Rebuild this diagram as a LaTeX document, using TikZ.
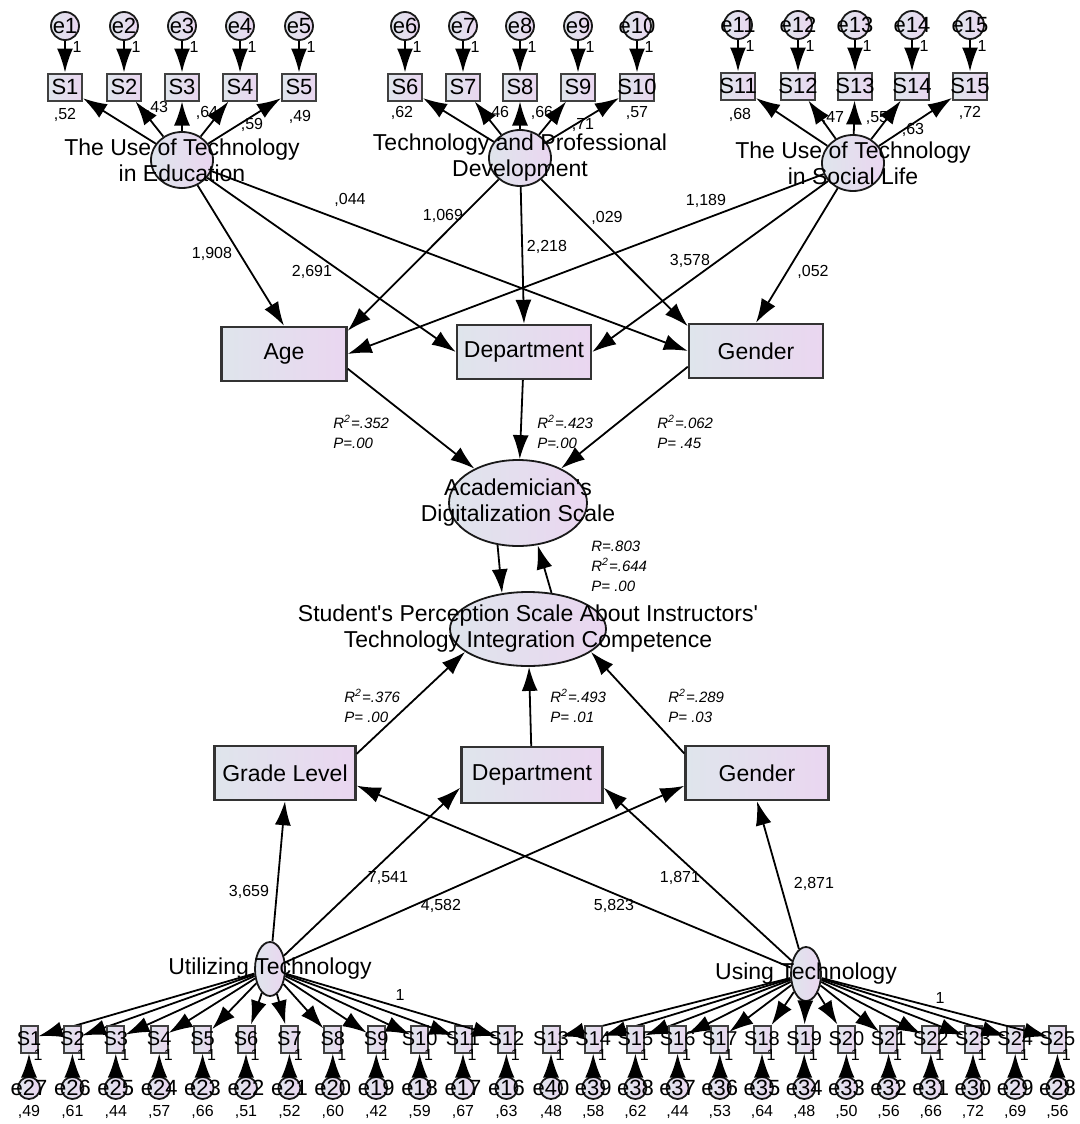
\documentclass[tikz,border=0pt]{standalone}
\usepackage{fontspec}
\setmainfont{Liberation Sans}
\usetikzlibrary{shapes,arrows.meta,calc,positioning}
\definecolor{fillL}{RGB}{223,229,236}
\definecolor{fillR}{RGB}{234,214,240}

\begin{document}
\begin{tikzpicture}[x=0.5pt,y=-0.5pt,
    lat/.style={ellipse,draw=black!90,line width=0.9pt,left color=fillL,right color=fillR,inner sep=0pt},
    obs/.style={draw=black!80,line width=1.2pt,left color=fillL,right color=fillR,inner sep=0pt,minimum height=27pt,font=\fontsize{11.5}{13}\selectfont},
    ind/.style={draw=black!75,line width=1pt,left color=fillL,right color=fillR,inner sep=0pt},
    err/.style={circle,draw=black!90,line width=0.9pt,left color=fillL,right color=fillR,inner sep=0pt},
    lattext/.style={font=\fontsize{11.5}{13}\selectfont,align=center},
    tag/.style={font=\fontsize{11}{12}\selectfont},
    smalltag/.style={font=\fontsize{10}{12}\selectfont},
    num/.style={font=\fontsize{8}{9}\selectfont,inner sep=0pt},
    rsq/.style={font=\fontsize{7.5}{10}\selectfont\itshape,align=left,inner sep=0pt,anchor=west},
    link/.style={-{Latex[length=12pt,width=8pt]},line width=0.9pt}]

\useasboundingbox (0,0) rectangle (1080,1124);

% top factors
\node[lat,minimum width=31pt,minimum height=28pt,label={[lattext]center:{The Use of Technology\\in Education}}] (edu) at (182,160) {};
\node[lat,minimum width=31pt,minimum height=28pt,label={[lattext]center:{Technology and Professional\\Development}}] (tpd) at (520,158) {};
\node[lat,minimum width=31pt,minimum height=28pt,label={[lattext]center:{The Use of Technology\\in Social Life}}] (tsl) at (853,163) {};

\foreach \i/\x/\lx/\ly/\w in {1/65/65/115/52,2/124/157/108/43,3/182/207/113/64,4/240/252/125/59,5/299/300/117/49}
{
  \node[ind,minimum width=17pt,minimum height=13.5pt,label={[tag]center:S\i}] (s\i) at (\x,87) {};
  \node[err,minimum size=14pt,label={[tag]center:e\i}] (e\i) at (\x,26) {};
  \draw[link] (e\i) -- (s\i);
  \draw[link] (edu) -- (s\i);
  \node[num] at (\x+12,47) {1};
  \node[num] at (\lx,\ly) {,\w};
}
\foreach \i/\x/\lx/\ly/\w in {6/405/402/113/62,7/463/498/113/46,8/520/542/113/66,9/578/583/125/71,10/637/637/113/57}
{
  \node[ind,minimum width=17pt,minimum height=13.5pt,label={[tag]center:S\i}] (s\i) at (\x,87) {};
  \node[err,minimum size=14pt,label={[tag]center:e\i}] (e\i) at (\x,26) {};
  \draw[link] (e\i) -- (s\i);
  \draw[link] (tpd) -- (s\i);
  \node[num] at (\x+12,47) {1};
  \node[num] at (\lx,\ly) {,\w};
}
\foreach \i/\x/\lx/\ly/\w in {11/738/740/115/68,12/798/833/118/47,13/855/877/118/55,14/912/913/130/63,15/970/970/113/72}
{
  \node[ind,minimum width=17pt,minimum height=13.5pt,label={[tag]center:S\i}] (s\i) at (\x,86) {};
  \node[err,minimum size=14pt,label={[tag]center:e\i}] (e\i) at (\x,25) {};
  \draw[link] (e\i) -- (s\i);
  \draw[link] (tsl) -- (s\i);
  \node[num] at (\x+12,46) {1};
  \node[num] at (\lx,\ly) {,\w};
}

% academician side
\node[obs,minimum width=62.5pt] (age) at (284,354) {Age};
\node[obs,minimum width=67pt] (dep1) at (524,352) {Department};
\node[obs,minimum width=67pt] (gen1) at (756,351) {Gender};

\draw[link] (edu) -- (age.north);
\draw[link] (edu) -- (dep1.west);
\draw[link] (edu) -- (gen1.west);
\draw[link] (tpd) -- (age.20);
\draw[link] (tpd) -- (dep1.north);
\draw[link] (tpd) -- (gen1.160);
\draw[link] (tsl) -- (age.east);
\draw[link] (tsl) -- (dep1.east);
\draw[link] (tsl) -- (gen1.north);

\node[num] at (212,254) {1,908};
\node[num] at (312,272) {2,691};
\node[num] at (350,200) {,044};
\node[num] at (443,216) {1,069};
\node[num] at (547,247) {2,218};
\node[num] at (607,218) {,029};
\node[num] at (706,201) {1,189};
\node[num] at (690,261) {3,578};
\node[num] at (813,272) {,052};

\node[lat,minimum width=69pt,minimum height=43pt,label={[lattext]center:{Academician\textquotesingle s\\Digitalization Scale}}] (ads) at (518,503) {};
\draw[link] (age.-13) -- (ads);
\draw[link] (dep1) -- (ads);
\draw[link] (gen1.193) -- (ads);

\node[rsq] at (333,432) {R\textsuperscript{2}=.352\\P=.00};
\node[rsq] at (537,432) {R\textsuperscript{2}=.423\\P=.00};
\node[rsq] at (657,432) {R\textsuperscript{2}=.062\\P= .45};

% student side
\node[lat,minimum width=78pt,minimum height=37pt,label={[lattext]center:{Student\textquotesingle s Perception Scale About Instructors\textquotesingle\\Technology Integration Competence}}] (sps) at (528,629) {};
\draw[link] (ads.244) -- (sps.126);
\draw[link] (sps.57) -- (ads.295);
\node[rsq] at (591,566) {R=.803\\R\textsuperscript{2}=.644\\P= .00};

\node[obs,minimum width=70.5pt] (grade) at (285,773) {Grade Level};
\node[obs,minimum width=70.5pt,minimum height=28pt] (dep2) at (532,775) {Department};
\node[obs,minimum width=71.5pt] (gen2) at (757,773) {Gender};

\draw[link] (grade.15) -- (sps.200);
\draw[link] (dep2) -- (sps);
\draw[link] (gen2.165) -- (sps.340);

\node[rsq] at (344,706) {R\textsuperscript{2}=.376\\P= .00};
\node[rsq] at (550,706) {R\textsuperscript{2}=.493\\P= .01};
\node[rsq] at (668,706) {R\textsuperscript{2}=.289\\P= .03};

\node[lat,minimum width=15pt,minimum height=27pt,label={[lattext]center:Utilizing Technology}] (util) at (270,969) {};
\node[lat,minimum width=15pt,minimum height=27pt,label={[lattext]center:Using Technology}] (using) at (806,974) {};

\draw[link] (util) -- (grade.south);
\draw[link] (util) -- (dep2.190);
\draw[link] (util) -- (gen2.190);
\draw[link] (using) -- (grade.350);
\draw[link] (using) -- (dep2.350);
\draw[link] (using) -- (gen2.south);

\node[num] at (249,892) {3,659};
\node[num] at (388,878) {7,541};
\node[num] at (441,906) {4,582};
\node[num] at (614,906) {5,823};
\node[num] at (680,878) {1,871};
\node[num] at (814,884) {2,871};

% indicators, bottom
\foreach \i/\n/\w [count=\k from 0] in {1/27/49,2/26/61,3/25/44,4/24/57,5/23/66,6/22/51,7/21/52,8/20/60,9/19/42,10/18/59,11/17/67,12/16/63}
{
  \pgfmathsetmacro{\xb}{29+43.4*\k}
  \node[ind,minimum width=8.5pt,minimum height=13.5pt,label={[smalltag]center:S\i}] (u\i) at (\xb,1039) {};
  \node[err,minimum size=11pt,label={[tag]center:e\n}] (e\n) at (\xb,1088) {};
  \draw[link] (e\n) -- (u\i);
  \draw[link] (util) -- (u\i);
  \node[num] at (\xb+9,1055) {1};
  \node[num] at (\xb,1112) {,\w};
}
\foreach \i/\n/\w [count=\k from 0] in {13/40/48,14/39/58,15/38/62,16/37/44,17/36/53,18/35/64,19/34/48,20/33/50,21/32/56,22/31/66,23/30/72,24/29/69,25/28/56}
{
  \pgfmathsetmacro{\xb}{551+42.2*\k}
  \node[ind,minimum width=8.5pt,minimum height=13.5pt,label={[smalltag]center:S\i}] (v\i) at (\xb,1039) {};
  \node[err,minimum size=11pt,label={[tag]center:e\n}] (e\n) at (\xb,1088) {};
  \draw[link] (e\n) -- (v\i);
  \draw[link] (using) -- (v\i);
  \node[num] at (\xb+9,1055) {1};
  \node[num] at (\xb,1112) {,\w};
}
\node[num] at (400,995) {1};
\node[num] at (940,998) {1};

\end{tikzpicture}
\end{document}
